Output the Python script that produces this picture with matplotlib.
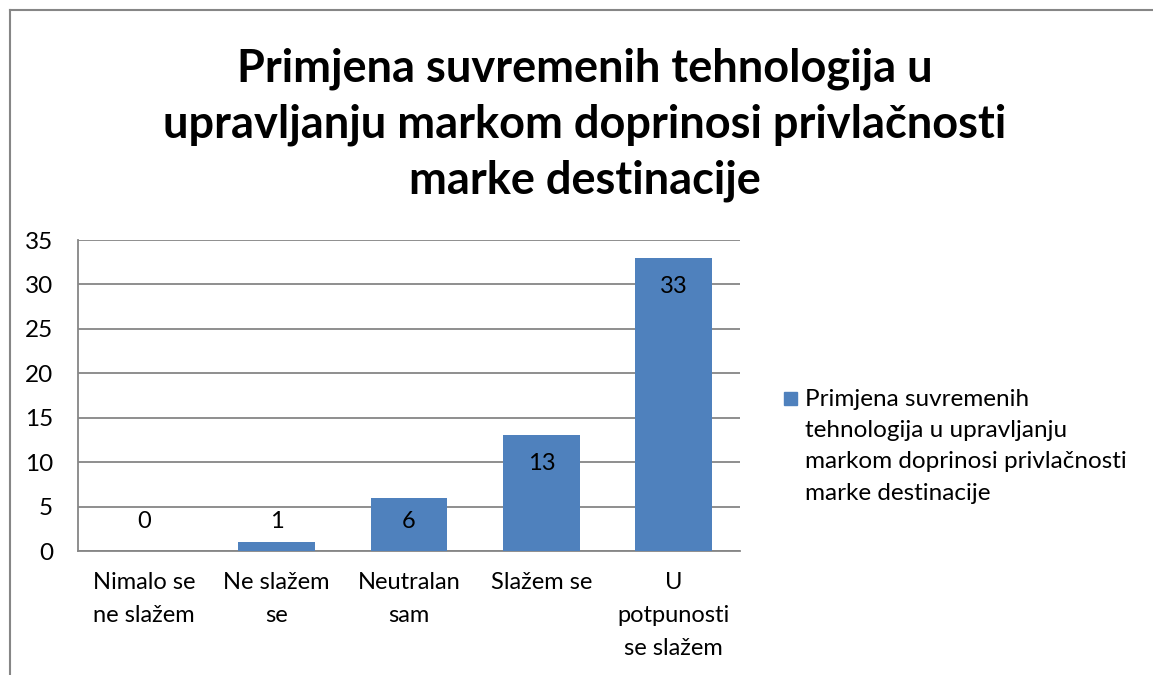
import matplotlib.pyplot as plt
from matplotlib.patches import Rectangle
from matplotlib.lines import Line2D

plt.rcParams['font.family'] = ['Lato', 'DejaVu Sans']

categories = ["Nimalo se\nne slažem", "Ne slažem\nse", "Neutralan\nsam",
              "Slažem se", "U\npotpunosti\nse slažem"]
values = [0, 1, 6, 13, 33]
series_name = "Primjena suvremenih\ntehnologija u upravljanju\nmarkom doprinosi privlačnosti\nmarke destinacije"
title = "Primjena suvremenih tehnologija u\nupravljanju markom doprinosi privlačnosti\nmarke destinacije"
yticks = [0, 5, 10, 15, 20, 25, 30, 35]

bar_color = "#4F81BD"
grid_color = "#868686"

W, H = 1153, 675
fig = plt.figure(figsize=(W / 100, H / 100), dpi=100)

# plot area in pixels: left 78, right 740, top 240, bottom 551
ax = fig.add_axes([78 / W, 1 - 551 / H, (740 - 78) / W, (551 - 240) / H])

x = list(range(len(values)))
ax.bar(x, values, width=0.58, color=bar_color, zorder=3)

for xi, v in zip(x, values):
    ypos = max(v - 3.2, 3.3)
    ax.text(xi, ypos, str(v), ha="center", va="center", fontsize=17, zorder=4)

ax.set_xlim(-0.5, len(values) - 0.5)
ax.set_ylim(0, 35)
ax.set_yticks(yticks)
ax.set_xticks(x)
ax.set_xticklabels(categories, fontsize=17, linespacing=1.7, va="top")
ax.tick_params(axis="y", length=0, pad=18, labelsize=17.5)
ax.tick_params(axis="x", length=0, pad=15)
for lbl in ax.get_yticklabels():
    lbl.set_horizontalalignment("right")
ax.yaxis.grid(True, color=grid_color, linewidth=1.3, zorder=0)
ax.set_axisbelow(True)
for s in ["top", "right"]:
    ax.spines[s].set_visible(False)
for s in ["left", "bottom"]:
    ax.spines[s].set_color(grid_color)
    ax.spines[s].set_linewidth(1.3)

fig.text(585 / W, 1 - 125 / H, title, ha="center", va="center",
         fontsize=32.5, fontweight="bold", linespacing=1.4)

# legend
fig.patches.append(Rectangle((784 / W, 1 - 405 / H), 13 / W, 13 / H,
                             transform=fig.transFigure, color=bar_color))
fig.text(805 / W, 1 - 389 / H, series_name, ha="left", va="top",
         fontsize=17.5, linespacing=1.6)

# chart border
fig.add_artist(Line2D([9.5 / W, 9.5 / W], [0, 1 - 10 / H], transform=fig.transFigure,
                      color=grid_color, linewidth=1.5))
fig.add_artist(Line2D([9.5 / W, 1], [1 - 10 / H, 1 - 10 / H], transform=fig.transFigure,
                      color=grid_color, linewidth=1.5))

fig.savefig("out.png", dpi=100)
